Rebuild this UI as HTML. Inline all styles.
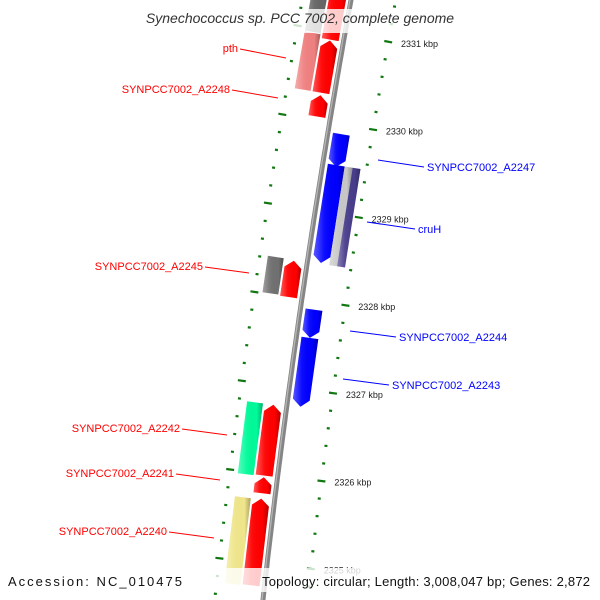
<!DOCTYPE html>
<html><head><meta charset="utf-8"><style>
html,body{margin:0;padding:0;background:#fff;}
svg{display:block;font-family:"Liberation Sans",sans-serif;}
</style></head><body>
<svg id="map" width="600" height="600" viewBox="0 0 600 600">
<defs>
<linearGradient id="shade" x1="0" y1="0" x2="1" y2="0">
<stop offset="0" stop-color="#fff" stop-opacity="0.35"/>
<stop offset="0.35" stop-color="#fff" stop-opacity="0.05"/>
<stop offset="0.75" stop-color="#000" stop-opacity="0"/>
<stop offset="1" stop-color="#000" stop-opacity="0.3"/>
</linearGradient>
<linearGradient id="bbshade" x1="0" y1="0" x2="1" y2="0">
<stop offset="0" stop-color="#aaa"/><stop offset="0.5" stop-color="#777"/><stop offset="1" stop-color="#999"/>
</linearGradient>
</defs>
<g id="ticks"></g>
<g id="backbone"></g>
<g id="genes"></g>
<g id="labels"></g>
<rect x="0" y="9" width="600" height="24" fill="#fff" opacity="0.8"/>
<text x="300" y="23" text-anchor="middle" font-size="14" font-style="italic" fill="#333">Synechococcus sp. PCC 7002, complete genome</text>
<rect x="0" y="568" width="600" height="24" fill="#fff" opacity="0.8"/>
<text x="8" y="586" font-size="13" fill="#111" textLength="174">Accession: NC_010475</text>
<text x="262" y="586" font-size="13" fill="#111" textLength="328">Topology: circular; Length: 3,008,047 bp; Genes: 2,872</text>
</svg>
<script>
// gene data (kbp)
const geneStarts = [2330.96, 2330.31, 2330.91, 2330.31, 2330.04, 2329.52, 2328.43, 2328.42, 2328.42, 2328.01, 2328.00, 2327.58, 2326.80, 2325.97, 2325.98, 2325.78, 2324.73, 2324.74];
const geneEnds   = [2331.60, 2330.95, 2331.60, 2330.90, 2330.28, 2329.89, 2329.54, 2329.54, 2329.54, 2328.42, 2328.41, 2327.90, 2327.58, 2326.78, 2326.78, 2325.96, 2325.71, 2325.72];
const geneStrand = [0, 0, 1, 1, 1, -1, -1, 0, 0, 0, 1, -1, -1, 0, 1, 1, 0, 1];
const geneTrack  = ['OL','OL','IL','IL','IL','IR','IR','OR1','OR2','OL','IL','IR','IR','OL','IL','IL','OL','IL'];
const geneColors = ['#666666','#f08080','#ff0000','#ff0000','#ff0000','#0000ff','#0000ff','#c8c8c8','#483d8b','#707070','#ff0000','#0000ff','#0000ff','#00fa9a','#ff0000','#ff0000','#f0e68c','#ff0000'];
const tickLabels = [2331, 2330, 2329, 2328, 2327, 2326, 2325];
const labelNames = ['pth','SYNPCC7002_A2248','SYNPCC7002_A2245','SYNPCC7002_A2242','SYNPCC7002_A2241','SYNPCC7002_A2240','SYNPCC7002_A2247','cruH','SYNPCC7002_A2244','SYNPCC7002_A2243'];

const NS='http://www.w3.org/2000/svg';
const A=-0.1817, B=5.83e-5;
function bx(y){return 351 + A*y + B*y*y;}
function yb(p){return 34 + (2331 - p)*88.3;}
function P(y, off){const s=A+2*B*y; const n=Math.sqrt(1+s*s); return [bx(y)+off/n, y - off*s/n];}
function mk(tag, attrs, parent){const e=document.createElementNS(NS,tag); for(const k in attrs) e.setAttribute(k, attrs[k]); parent.appendChild(e); return e;}
const tracks={OL:[-40,-24], IL:[-22,-5], IR:[5,22], OR1:[22,30], OR2:[30,38]};

// backbone
const bbG=document.getElementById('backbone');
let pts=[]; for(let y=-5;y<=605;y+=5){const p=P(y,0);pts.push(p[0].toFixed(1)+','+p[1].toFixed(1));}
const bb=mk('polyline',{points:pts.join(' '),fill:'none',stroke:'#858585','stroke-width':5},bbG);


let pts2=[]; for(let y=-5;y<=605;y+=5){const p=P(y,-1);pts2.push(p[0].toFixed(1)+','+p[1].toFixed(1));}
const bb2=mk('polyline',{points:pts2.join(' '),fill:'none',stroke:'#b5b5b5','stroke-width':1.3},bbG);



// ticks
const tG=document.getElementById('ticks');
for(let i=0;i<=35;i++){
  const p=2331.6 - i*0.2;
  const major=Math.abs(p-Math.round(p))<0.01;
  const y=yb(p);
  [[44,major?8:3],[-48,major?8:3]].forEach(([off,len])=>{
    const a=P(y,off-len/2), b=P(y,off+len/2);
    const t=mk('line',{x1:a[0],y1:a[1],x2:b[0],y2:b[1],stroke:'#117711','stroke-width':2.2},tG);
    
    
  });
}
tickLabels.forEach(k=>{
  const q=P(yb(k),57);
  const t=mk('text',{x:q[0],y:q[1]+3,'font-size':9,fill:'#222'},tG);
  t.textContent=k+' kbp';
  
  
});

// genes
const gG=document.getElementById('genes');
for(let i=0;i<geneStarts.length;i++){
  const yTop=yb(geneEnds[i]), yBot=yb(geneStarts[i]);
  const [o1,o2]=tracks[geneTrack[i]]; const om=(o1+o2)/2; const h=7;
  let poly=[];
  if(geneStrand[i]===1){ poly=[[yTop+h,o1],[yTop,om],[yTop+h,o2],[yBot,o2],[yBot,o1]]; }
  else if(geneStrand[i]===-1){ poly=[[yTop,o1],[yTop,o2],[yBot-h,o2],[yBot,om],[yBot-h,o1]]; }
  else { poly=[[yTop,o1],[yTop,o2],[yBot,o2],[yBot,o1]]; }
  const s=poly.map(q=>{const p=P(q[0],q[1]);return p[0].toFixed(1)+','+p[1].toFixed(1);}).join(' ');
  const g=mk('polygon',{points:s,fill:geneColors[i]},gG);
  
  
  const sh=mk('polygon',{points:s,fill:'url(#shade)'},gG);
  
  
}

// labels
const lG=document.getElementById('labels');
const labelLines=[[240,49,286,58],[232,90,278,98],[205,267,249,273],[182,429,227,435],[176,474,220,480],[169,532,214,538],[378,160,424,167],[367,222,415,229],[350,331,396,337],[343,379,389,385]];
const labelSide=['L','L','L','L','L','L','R','R','R','R'];
labelNames.forEach((nm,i)=>{
  const [x1,y1,x2,y2]=labelLines[i];
  const col=labelSide[i]==='L'?'#ff0000':'#0000ff';
  const ln=mk('line',{x1,y1,x2,y2,stroke:col,'stroke-width':1},lG);
  
  
  const t=mk('text',{'font-size':11,fill:col},lG);
  if(labelSide[i]==='L'){t.setAttribute('x',x1-2);t.setAttribute('y',y1+3);t.setAttribute('text-anchor','end');}
  else{t.setAttribute('x',x2+3);t.setAttribute('y',y2+4);}
  t.textContent=nm;
  
  
});
</script>
</body></html>
